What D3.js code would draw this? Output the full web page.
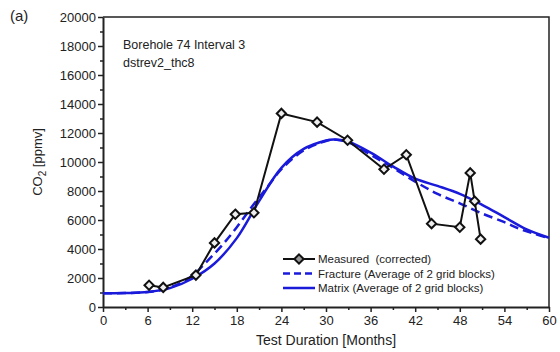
<!DOCTYPE html>
<html>
<head>
<meta charset="utf-8">
<script src="https://cdn.jsdelivr.net/npm/d3@7"></script>
<style>
  body { margin: 0; background: #fff; }
  svg { font-family: "Liberation Sans", Arial, sans-serif; }
</style>
</head>
<body>
<div id="chart"></div>
<script>
// Measured (corrected)
var measuredMonths = [6.2, 8.1, 12.5, 15.0, 17.8, 20.3, 24.0, 28.8, 32.9, 37.8, 40.8, 44.2, 48.0, 49.4, 50.0, 50.8];
var measuredCO2 = [1500, 1350, 2200, 4420, 6400, 6500, 13350, 12750, 11500, 9500, 10500, 5750, 5500, 9250, 7300, 4680];

// Fracture (Average of 2 grid blocks)
var fractureMonths = [0, 3, 6, 8, 10, 12, 14, 16, 18, 20, 22, 24, 27, 30, 31, 33, 36, 39, 42, 45, 48, 51, 54, 56, 58, 60];
var fractureCO2 = [950, 960, 1030, 1200, 1550, 2150, 3150, 4250, 5500, 6900, 8200, 9500, 10800, 11450, 11550, 11350, 10500, 9600, 8650, 7800, 7150, 6450, 5850, 5400, 5050, 4750];

// Matrix (Average of 2 grid blocks)
var matrixMonths = [0, 3, 6, 9, 12, 15, 18, 21, 24, 27, 30, 31, 33, 36, 39, 42, 45, 48, 51, 54, 57, 60];
var matrixCO2 = [950, 960, 1030, 1300, 1950, 3000, 4750, 7300, 9600, 10900, 11480, 11560, 11400, 10650, 9700, 8850, 8350, 7800, 7050, 6200, 5350, 4780];

var xTicks = [0, 6, 12, 18, 24, 30, 36, 42, 48, 54, 60];
var yTicks = [0, 2000, 4000, 6000, 8000, 10000, 12000, 14000, 16000, 18000, 20000];

var W = 560, H = 352;
var margin = { top: 17, right: 11, bottom: 45, left: 103 },
    width = W - margin.left - margin.right,
    height = H - margin.top - margin.bottom;

var svg = d3.select("#chart")
    .append("svg")
    .attr("width", W)
    .attr("height", H);

var g = svg.append("g")
    .attr("transform", "translate(" + margin.left + "," + margin.top + ")");

var x = d3.scaleLinear().domain([0, 60]).range([0, width]);
var y = d3.scaleLinear().domain([0, 20000]).range([height, 0]);

// minor ticks
g.append("g")
    .attr("transform", "translate(0," + height + ")")
    .call(d3.axisBottom(x).tickValues(d3.range(3, 60, 6)).tickSize(3).tickFormat(""))
    .call(s => s.select(".domain").remove())
    .selectAll("line").attr("stroke", "#222").attr("stroke-width", 1.5);
g.append("g")
    .call(d3.axisLeft(y).tickValues(d3.range(1000, 20000, 2000)).tickSize(3).tickFormat(""))
    .call(s => s.select(".domain").remove())
    .selectAll("line").attr("stroke", "#222").attr("stroke-width", 1.5);

// X axis
var xAxis = g.append("g")
    .attr("transform", "translate(0," + height + ")")
    .call(d3.axisBottom(x).tickValues(xTicks).tickSize(5).tickPadding(4).tickSizeOuter(0));
xAxis.selectAll("text").style("font-size", "13px").attr("fill", "#222");

// Y axis
var yAxis = g.append("g")
    .call(d3.axisLeft(y).tickValues(yTicks).tickFormat(d3.format("d")).tickSize(5).tickPadding(2).tickSizeOuter(0));
yAxis.selectAll("text").style("font-size", "13px").attr("fill", "#222");

[xAxis, yAxis].forEach(function (a) {
    a.select(".domain").attr("stroke", "#222").attr("stroke-width", 2);
    a.selectAll(".tick line").attr("stroke", "#222").attr("stroke-width", 1.5);
});

// frame top & right
g.append("path")
    .attr("d", "M0,0H" + width + "V" + height)
    .attr("fill", "none")
    .attr("stroke", "#222")
    .attr("stroke-width", 1.5);

// Lines
var line = d3.line()
    .x(function (d) { return x(d[0]); })
    .y(function (d) { return y(d[1]); });
var smooth = d3.line()
    .curve(d3.curveCatmullRom)
    .x(function (d) { return x(d[0]); })
    .y(function (d) { return y(d[1]); });

var matrix = d3.zip(matrixMonths, matrixCO2);
var fracture = d3.zip(fractureMonths, fractureCO2);
var measured = d3.zip(measuredMonths, measuredCO2);

g.append("path")
    .datum(fracture)
    .attr("d", smooth)
    .attr("fill", "none")
    .attr("stroke", "#1a1adb")
    .attr("stroke-width", 2.5)
    .attr("stroke-dasharray", "9,5");

g.append("path")
    .datum(matrix)
    .attr("d", smooth)
    .attr("fill", "none")
    .attr("stroke", "#1a1adb")
    .attr("stroke-width", 2.5);

g.append("path")
    .datum(measured)
    .attr("d", line)
    .attr("fill", "none")
    .attr("stroke", "#111")
    .attr("stroke-width", 2);

var diamond = d3.symbol().type(d3.symbolDiamond2).size(55);
g.selectAll(".pt")
    .data(measured)
    .enter()
    .append("path")
    .attr("class", "pt")
    .attr("d", diamond)
    .attr("transform", function (d) { return "translate(" + x(d[0]) + "," + y(d[1]) + ")"; })
    .attr("fill", "#eee")
    .attr("stroke", "#111")
    .attr("stroke-width", 2);

// Axis titles
svg.append("text")
    .attr("x", margin.left + width / 2)
    .attr("y", 345)
    .attr("text-anchor", "middle")
    .style("font-size", "14px")
    .attr("fill", "#222")
    .text("Test Duration [Months]");

var yt = svg.append("text")
    .attr("transform", "translate(42," + (margin.top + height / 2) + ")rotate(-90)")
    .attr("text-anchor", "middle")
    .style("font-size", "13px")
    .attr("fill", "#222");
yt.append("tspan").text("CO");
yt.append("tspan").attr("dy", 4).style("font-size", "10px").text("2");
yt.append("tspan").attr("dy", -4).text(" [ppmv]");

svg.append("text")
    .attr("x", 10)
    .attr("y", 21)
    .style("font-size", "15px")
    .attr("fill", "#222")
    .text("(a)");

// Annotation
svg.append("text")
    .attr("x", 123)
    .attr("y", 49)
    .style("font-size", "12.5px")
    .attr("fill", "#222")
    .text("Borehole 74 Interval 3");
svg.append("text")
    .attr("x", 123)
    .attr("y", 67)
    .style("font-size", "12.5px")
    .attr("fill", "#222")
    .text("dstrev2_thc8");

// Legend
var legendNames = ["Measured  (corrected)", "Fracture (Average of 2 grid blocks)", "Matrix (Average of 2 grid blocks)"];
var lg = svg.append("g").attr("transform", "translate(283,259)");
legendNames.forEach(function (name, i) {
    var row = lg.append("g").attr("transform", "translate(0," + (i * 14.5) + ")");
    var ln = row.append("line")
        .attr("x1", 0).attr("x2", 32).attr("y1", 0).attr("y2", 0)
        .attr("stroke-width", 2);
    if (i === 0) {
        ln.attr("stroke", "#111");
        row.append("path")
            .attr("d", diamond)
            .attr("transform", "translate(16,0)")
            .attr("fill", "#999")
            .attr("stroke", "#111")
            .attr("stroke-width", 2);
    } else {
        ln.attr("stroke", "#1a1adb").attr("stroke-width", 2.5);
        if (i === 1) ln.attr("stroke-dasharray", "7,4");
    }
    row.append("text")
        .attr("x", 35)
        .attr("y", 4)
        .style("font-size", "11.5px")
        .style("white-space", "pre")
        .attr("fill", "#222")
        .text(name);
});
</script>
</body>
</html>
